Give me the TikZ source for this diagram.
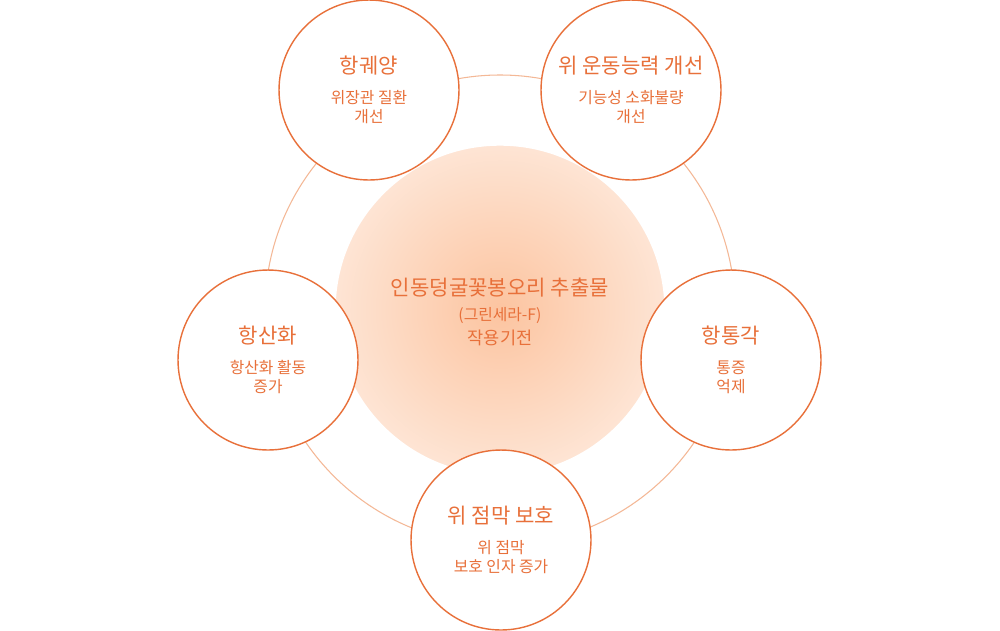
\documentclass[tikz,border=0pt]{standalone}
\usepackage{fontspec}
\setmainfont{Noto Sans CJK KR}
\usetikzlibrary{positioning}
\definecolor{accent}{HTML}{E8703A}
\definecolor{ringline}{HTML}{F4B896}
\definecolor{glow}{HTML}{FCC4A0}
\tikzset{
  effect/.style={circle, draw=accent, fill=white, line width=0.8pt, minimum size=3.6cm, text=accent, align=center, font=\small},
  title/.style={font=\large\bfseries}
}
\newcommand{\effectlabel}[2]{{\large #1}\\[6pt]#2}
\begin{document}
\begin{tikzpicture}[x=0.02cm,y=-0.02cm]
\useasboundingbox (0,0) rectangle (1000,630);
% outer ring and glow
\draw[ringline, line width=0.6pt] (500,310) circle (235);
\shade[inner color=glow, outer color=white] (500,310) circle (300);
\fill[white, opacity=0] (500,310) circle (220);
\begin{scope}
\clip (0,0) rectangle (1000,630);
\draw[white, line width=30pt] (500,310) circle (250);
\draw[white, line width=200pt] (500,310) circle (340);
\end{scope}
\draw[ringline, line width=0.6pt] (500,310) circle (235);
\node[text=accent, align=center] (core) at (500,312) {{\large 인동덩굴꽃봉오리 추출물}\\[2pt]{\small (그린세라-F)}\\[2pt]작용기전};
% effect circles
\node[effect] (gastritis) at (369,90) {\effectlabel{항궤양}{위장관 질환\\개선}};
\node[effect] (motility) at (631,90) {\effectlabel{위 운동능력 개선}{기능성 소화불량\\개선}};
\node[effect] (pain) at (731,360) {\effectlabel{항통각}{통증\\억제}};
\node[effect] (mucosa) at (501,540) {\effectlabel{위 점막 보호}{위 점막\\보호 인자 증가}};
\node[effect] (oxidant) at (268,360) {\effectlabel{항산화}{항산화 활동\\증가}};
\end{tikzpicture}
\end{document}
